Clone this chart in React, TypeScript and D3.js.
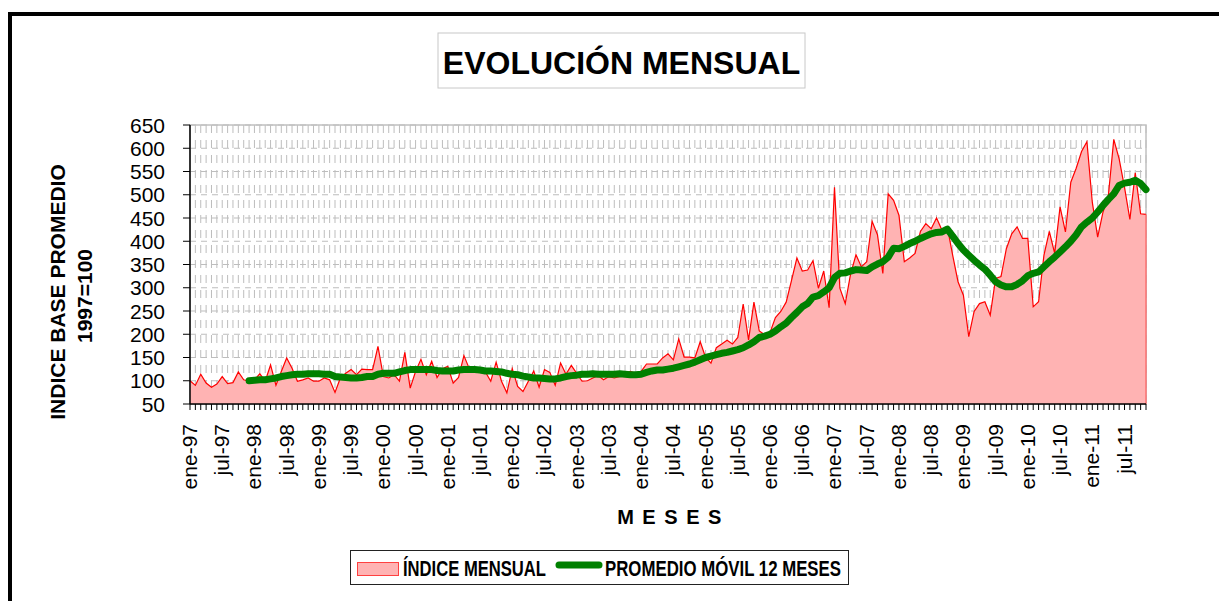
import React from 'react';
import * as d3 from 'd3';

const MONTHS = ['ene', 'feb', 'mar', 'abr', 'may', 'jun', 'jul', 'ago', 'sep', 'oct', 'nov', 'dic'];
const YEARS = ['97', '98', '99', '00', '01', '02', '03', '04', '05', '06', '07', '08', '09', '10', '11'];

const INDICE_MENSUAL: number[] = [
  100, 90, 114, 95, 86, 93, 109, 94, 96, 119, 102, 99,
  102, 115, 99, 134, 90, 120, 149, 127, 99, 102, 106, 99,
  99, 106, 102, 75, 106, 116, 124, 113, 125, 124, 124, 174,
  109, 106, 113, 99, 161, 84, 120, 146, 113, 142, 107, 126,
  131, 95, 107, 154, 126, 129, 127, 119, 99, 140, 99, 74,
  126, 88, 77, 99, 121, 86, 124, 118, 90, 138, 114, 133,
  116, 99, 100, 106, 111, 102, 109, 106, 109, 116, 120, 116,
  120, 136, 136, 136, 149, 158, 145, 190, 151, 151, 149, 184,
  150, 138, 171, 179, 187, 179, 193, 265, 188, 269, 207, 199,
  204, 236, 249, 269, 316, 364, 336, 338, 358, 299, 336, 257,
  516, 299, 266, 330, 371, 345, 356, 443, 414, 331, 502, 488,
  456, 356, 364, 374, 421, 438, 427, 450, 424, 431, 370, 313,
  284, 195, 249, 266, 270, 241, 320, 324, 384, 416, 431, 406,
  406, 259, 270, 370, 421, 374, 474, 420, 527, 557, 593, 614,
  484, 409, 463, 499, 619, 577, 516, 447, 547, 459, 458,
];

const PROMEDIO_MOVIL: (number | null)[] = [
  null, null, null, null, null, null, null, null, null, null, null, 100,
  101, 102, 102, 104, 106, 109, 111, 113, 114, 114, 115, 115,
  115, 114, 114, 109, 108, 107, 106, 106, 107, 109, 109, 114,
  116, 116, 116, 119, 122, 124, 124, 124, 124, 124, 122, 121,
  121, 121, 123, 124, 124, 124, 123, 121, 121, 120, 119, 116,
  114, 113, 110, 108, 106, 106, 105, 104, 104, 106, 109, 111,
  112, 114, 114, 115, 114, 114, 114, 114, 115, 114, 113, 113,
  114, 118, 121, 123, 123, 125, 127, 130, 133, 136, 140, 145,
  150, 153, 156, 159, 161, 164, 167, 171, 177, 184, 193, 196,
  200, 207, 216, 224, 236, 247, 259, 266, 280, 283, 291, 300,
  322, 331, 332, 336, 339, 338, 337, 345, 351, 356, 366, 385,
  384, 389, 395, 400, 406, 411, 416, 419, 420, 426, 411, 395,
  381, 370, 359, 349, 340, 327, 313, 306, 302, 302, 307, 315,
  326, 331, 334, 345, 356, 366, 377, 388, 400, 414, 431, 441,
  450, 463, 477, 490, 502, 520, 525, 527, 531, 524, 511,
];

const Y_TICKS = [50, 100, 150, 200, 250, 300, 350, 400, 450, 500, 550, 600, 650];

const TITLE = 'EVOLUCIÓN MENSUAL';
const Y_TITLE_1 = 'INDICE BASE PROMEDIO';
const Y_TITLE_2 = '1997=100';
const X_TITLE = 'M E S E S';
const LEGEND_AREA = 'ÍNDICE MENSUAL';
const LEGEND_LINE = 'PROMEDIO MÓVIL 12 MESES';

const FONT = '"Liberation Sans", Arial, Helvetica, sans-serif';

export default function App() {
  const W = 1219;
  const H = 601;
  const left = 190;
  const right = 1146;
  const top = 125;
  const bottom = 404;

  const categories = YEARS.flatMap((yy) => MONTHS.map((m) => `${m}-${yy}`)).slice(0, INDICE_MENSUAL.length);
  const x = d3.scalePoint<string>().domain(categories).range([left, right]).padding(0);
  const y = d3.scaleLinear().domain([50, 650]).range([bottom, top]);

  const areaGen = d3
    .area<number>()
    .x((_, i) => x(categories[i]) as number)
    .y0(bottom)
    .y1((d) => y(d));
  const lineGen = d3
    .line<number>()
    .x((_, i) => x(categories[i]) as number)
    .y((d) => y(d));
  const maLine = d3
    .line<number | null>()
    .defined((d) => d != null)
    .x((_, i) => x(categories[i]) as number)
    .y((d) => y(d as number));

  const labelCats = categories.filter((c) => c.startsWith('ene') || c.startsWith('jul'));

  return (
    <svg
      width={W}
      height={H}
      style={{ position: 'absolute', left: 0, top: 0, display: 'block', background: '#fff' }}
      fontFamily={FONT}
    >
      <rect x={0} y={0} width={W} height={H} fill="#fff" />
      {/* outer frame */}
      <rect x={10} y={14} width={1220} height={620} fill="none" stroke="#000" strokeWidth={4} />

      {/* title */}
      <rect x={438} y={33} width={367} height={55} fill="#fff" stroke="#c8c8c8" strokeWidth={1} />
      <text x={621.5} y={73.5} textAnchor="middle" fontSize={32} fontWeight="bold" fill="#000">
        {TITLE}
      </text>

      {/* gridlines */}
      <g>
        {categories.map((c, i) =>
          i === 0 ? null : (
            <line
              key={'v' + c}
              x1={x(c)}
              x2={x(c)}
              y1={top}
              y2={bottom}
              stroke="#bdbdbd"
              strokeWidth={1}
              strokeDasharray="8,7"
            />
          )
        )}
        {Y_TICKS.map((t) => (
          <line
            key={'h' + t}
            x1={left}
            x2={right}
            y1={y(t)}
            y2={y(t)}
            stroke="#bdbdbd"
            strokeWidth={1}
            strokeDasharray="6,5"
          />
        ))}
      </g>
      {/* plot area border */}
      <rect x={left} y={top} width={right - left} height={bottom - top} fill="none" stroke="#c0c0c0" strokeWidth={1.5} />

      {/* area series */}
      <path d={areaGen(INDICE_MENSUAL) || ''} fill="#ffb3b3" stroke="none" />
      <path d={lineGen(INDICE_MENSUAL) || ''} fill="none" stroke="#ff0000" strokeWidth={1.2} />
      <line
        x1={x(categories[categories.length - 1])}
        x2={x(categories[categories.length - 1])}
        y1={y(INDICE_MENSUAL[INDICE_MENSUAL.length - 1])}
        y2={bottom}
        stroke="#ff6060"
        strokeWidth={1.2}
      />

      {/* moving average */}
      <path
        d={maLine(PROMEDIO_MOVIL) || ''}
        fill="none"
        stroke="#008000"
        strokeWidth={7}
        strokeLinejoin="round"
        strokeLinecap="round"
      />

      {/* y axis */}
      <line x1={left} x2={left} y1={top} y2={bottom} stroke="#000" strokeWidth={1.5} />
      {Y_TICKS.map((t) => (
        <g key={'yt' + t}>
          <line x1={left - 7} x2={left} y1={y(t)} y2={y(t)} stroke="#000" strokeWidth={1} />
          <text x={165} y={y(t)} dy="0.36em" textAnchor="end" fontSize={21} fill="#000">
            {t}
          </text>
        </g>
      ))}

      {/* x axis */}
      <line x1={left} x2={right} y1={bottom} y2={bottom} stroke="#000" strokeWidth={1.5} />
      {categories.map((c) => (
        <line key={'xt' + c} x1={x(c)} x2={x(c)} y1={bottom} y2={bottom + 6} stroke="#000" strokeWidth={1} />
      ))}
      {labelCats.map((c) => {
        const px = x(c) as number;
        return (
          <text
            key={'xl' + c}
            transform={`translate(${px + 7},${424}) rotate(-90)`}
            textAnchor="end"
            fontSize={21}
            fill="#000"
          >
            {c}
          </text>
        );
      })}

      {/* axis titles */}
      <text x={670} y={524} textAnchor="middle" fontSize={20} fontWeight="bold" letterSpacing={1.5} fill="#000">
        {X_TITLE}
      </text>
      <text transform="translate(65,292) rotate(-90)" textAnchor="middle" fontSize={21} fontWeight="bold" fill="#000">
        {Y_TITLE_1}
      </text>
      <text transform="translate(92,296) rotate(-90)" textAnchor="middle" fontSize={21} fontWeight="bold" fill="#000">
        {Y_TITLE_2}
      </text>

      {/* legend */}
      <rect x={350.5} y={550.5} width={498} height={34} fill="#fff" stroke="#222" strokeWidth={1} />
      <rect x={357.5} y={562.5} width={41} height={13} fill="#ffb3b3" stroke="#ff4040" strokeWidth={1} />
      <text x={403} y={576} fontSize={22} fontWeight="bold" fill="#000" textLength={143} lengthAdjust="spacingAndGlyphs">
        {LEGEND_AREA}
      </text>
      <line x1={559} x2={599} y1={565} y2={565} stroke="#008000" strokeWidth={7} strokeLinecap="round" />
      <text x={605} y={576} fontSize={22} fontWeight="bold" fill="#000" textLength={236} lengthAdjust="spacingAndGlyphs">
        {LEGEND_LINE}
      </text>
    </svg>
  );
}
